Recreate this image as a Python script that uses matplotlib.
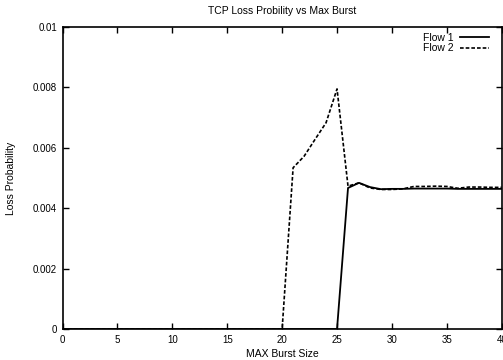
import matplotlib
matplotlib.use("Agg")
import matplotlib.pyplot as plt

plt.rcParams['font.family'] = ['Liberation Sans', 'DejaVu Sans']

burst = list(range(0, 41))
flow1 = [0.0] * 26 + [0.00467, 0.00484, 0.00470, 0.00463, 0.00464, 0.00464,
                      0.00465, 0.00465, 0.00465, 0.00465, 0.00464, 0.00464,
                      0.00464, 0.00464, 0.00464]
flow2 = [0.0] * 21 + [0.00534, 0.00572, 0.00628, 0.00683, 0.00795, 0.00473,
                      0.00484, 0.00467, 0.00462, 0.00462, 0.00464, 0.00472,
                      0.00472, 0.00473, 0.00472, 0.00466, 0.00470, 0.00470,
                      0.00469, 0.00469]

xticks = [0, 5, 10, 15, 20, 25, 30, 35, 40]
yticks = [0, 0.002, 0.004, 0.006, 0.008, 0.01]
ytick_labels = ["0", "0.002", "0.004", "0.006", "0.008", "0.01"]

fig = plt.figure(figsize=(5.03, 3.60), dpi=100)
ax = fig.add_axes([0.1243, 0.0861, 0.8732, 0.8389])

ax.plot(burst, flow1, color='black', lw=1.3, label='Flow 1')
ax.plot(burst, flow2, color='black', lw=1.2, ls=(0, (2.2, 1.2)), label='Flow 2')

ax.set_xlim(0, 40)
ax.set_ylim(0, 0.01)
ax.set_xticks(xticks)
ax.set_xticklabels([str(t) for t in xticks])
ax.set_yticks(yticks)
ax.set_yticklabels(ytick_labels)
ax.tick_params(direction='in', length=4, width=1, labelsize=7, top=True, right=True,
               pad=4)
for s in ax.spines.values():
    s.set_linewidth(1.2)

ax.set_title("TCP Loss Probility vs Max Burst", fontsize=7.5, pad=9)
ax.set_xlabel("MAX Burst Size", fontsize=7.5, labelpad=3)
ax.set_ylabel("Loss Probability", fontsize=7.5, labelpad=12)

leg = ax.legend(loc='upper right', bbox_to_anchor=(0.988, 1.005), frameon=False,
                fontsize=7.5, markerfirst=False,
                handlelength=2.8, handletextpad=0.6, labelspacing=0.05,
                borderaxespad=0.3)

fig.savefig("out.png", dpi=100)
